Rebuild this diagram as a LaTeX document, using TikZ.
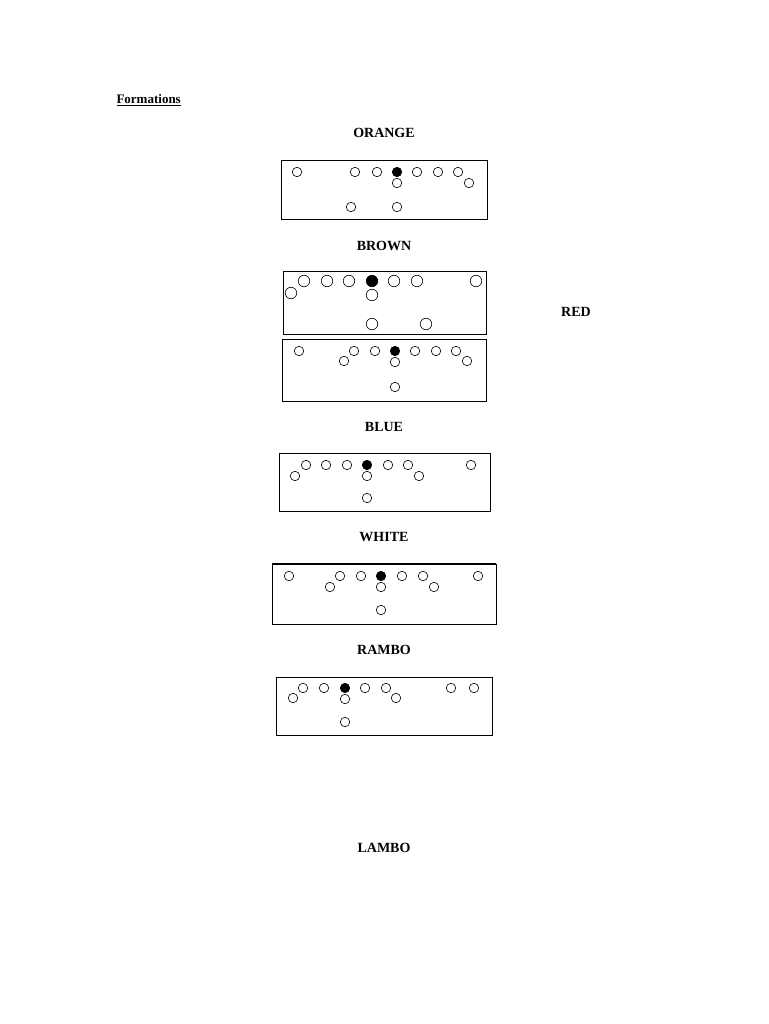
\documentclass[tikz,border=0pt]{standalone}
\usepackage{fontspec}
\setmainfont{Liberation Serif}
\begin{document}
\begin{tikzpicture}[x=1pt,y=-1pt,
  pl/.style={circle,draw,inner sep=0pt,minimum size=9.5pt,line width=0.6pt},
  plb/.style={pl,minimum size=11.5pt},
  ctr/.style={pl,fill=black},
  ctrb/.style={plb,fill=black},
  fbox/.style={draw,line width=0.8pt},
  ttl/.style={font=\fontsize{14}{16}\selectfont\bfseries}]
\useasboundingbox (0,0) rectangle (768,1024);
\node[anchor=west,font=\fontsize{13}{15}\selectfont\bfseries] (f) at (113,100) {\underline{Formations}};
\node[ttl] (t1) at (384,133) {ORANGE};
\node[ttl] (t2) at (384,246) {BROWN};
\node[ttl] (t3) at (576,312) {RED};
\node[ttl] (t4) at (384,427) {BLUE};
\node[ttl] (t5) at (384,537) {WHITE};
\node[ttl] (t6) at (384,650) {RAMBO};
\node[ttl] (t7) at (384,848) {LAMBO};
% ORANGE
\draw[fbox] (281,160) rectangle (487,219);
\foreach \x in {297,355,377,417,438,458} \node[pl] at (\x,172) {};
\node[ctr] at (397,172) {};
\node[pl] at (469,183) {}; \node[pl] at (397,183) {};
\node[pl] at (351,207) {}; \node[pl] at (397,207) {};
% BROWN
\draw[fbox] (283,271) rectangle (486,334);
\foreach \x in {304,327,349,394,417,476} \node[plb] at (\x,281) {};
\node[ctrb] at (372,281) {};
\node[plb] at (291,293) {}; \node[plb] at (372,295) {};
\node[plb] at (372,324) {}; \node[plb] at (426,324) {};
% RED
\draw[fbox] (282,339) rectangle (486,401);
\foreach \x in {299,354,375,415,436,456} \node[pl] at (\x,351) {};
\node[ctr] at (395,351) {};
\node[pl] at (344,361) {}; \node[pl] at (395,362) {}; \node[pl] at (467,361) {};
\node[pl] at (395,387) {};
% BLUE
\draw[fbox] (279,453) rectangle (490,511);
\foreach \x in {306,326,347,388,408,471} \node[pl] at (\x,465) {};
\node[ctr] at (367,465) {};
\node[pl] at (295,476) {}; \node[pl] at (367,476) {}; \node[pl] at (419,476) {};
\node[pl] at (367,498) {};
% WHITE
\draw[fbox] (272,564) rectangle (496,624);
\draw[line width=1.5pt] (272,564) -- (496,564);
\foreach \x in {289,340,361,402,423,478} \node[pl] at (\x,576) {};
\node[ctr] at (381,576) {};
\node[pl] at (330,587) {}; \node[pl] at (381,587) {}; \node[pl] at (434,587) {};
\node[pl] at (381,610) {};
% RAMBO
\draw[fbox] (276,677) rectangle (492,735);
\foreach \x in {303,324,365,386,451,474} \node[pl] at (\x,688) {};
\node[ctr] at (345,688) {};
\node[pl] at (293,698) {}; \node[pl] at (345,699) {}; \node[pl] at (396,698) {};
\node[pl] at (345,722) {};
\end{tikzpicture}
\end{document}
